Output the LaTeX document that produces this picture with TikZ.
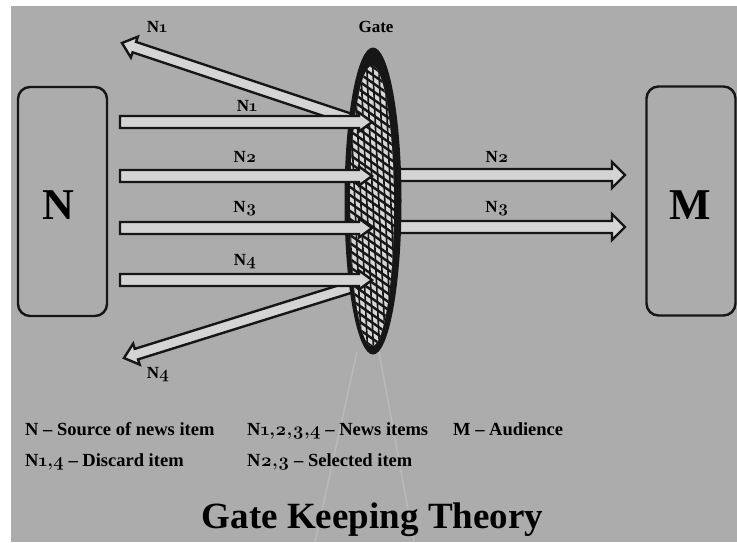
\documentclass[tikz,border=0pt]{standalone}
\usepackage{fontspec}
\setmainfont{Liberation Serif}
\newfontfamily\osf{Latin Modern Roman}[Numbers=OldStyle]
\usetikzlibrary{calc,shapes.geometric}
\definecolor{bg}{RGB}{172,172,172}
\definecolor{afill}{RGB}{212,212,212}
\definecolor{ink}{RGB}{22,22,22}
\definecolor{hatchbg}{RGB}{215,215,215}
\definecolor{faint}{RGB}{186,186,186}
\newcommand\nn[1]{N{\osf #1}}
% block arrow: #1 shaft half width, #2 head half width, #3 start, #4 end
\newcommand\blockarr[4]{%
  \path ($(#4)!13pt!(#3)$) coordinate (bh);
  \filldraw[barrow] ($(#3)!#1!90:(#4)$) -- ($(bh)!#1!90:(#4)$) -- ($(bh)!#2!90:(#4)$) -- (#4)
    -- ($(bh)!#2!-90:(#4)$) -- ($(bh)!#1!-90:(#4)$) -- ($(#3)!#1!-90:(#4)$) -- cycle;}
\begin{document}
\begin{tikzpicture}[x=1pt,y=-1pt,
  barrow/.style={draw=ink, fill=afill, line width=2.4pt, line join=miter},
  box/.style={draw=ink, line width=2.4pt, rounded corners=12pt, minimum width=89pt, minimum height=229pt, inner sep=0},
  big/.style={font=\bfseries\fontsize{44}{44}\selectfont},
  lbl/.style={font=\bfseries\fontsize{17}{17}\selectfont, inner sep=0},
  legend/.style={font=\bfseries\fontsize{18.5}{18.5}\selectfont, inner sep=0, anchor=base west},
  title/.style={font=\bfseries\fontsize{37}{37}\selectfont, inner sep=0, anchor=base}]
\useasboundingbox (0,0) rectangle (737,542);
\fill[white] (0,0) rectangle (737,542);
\fill[bg] (11,6) rectangle (737,542);

% boxes
\node[box] (N) at (62.5,201.5) {};
\node[big] (Nt) at (58,205) {N};
\node[box] (M) at (691,201) {};
\node[big] (Mt) at (690,205) {M};

% faint stem lines under gate
\coordinate (s1a) at (357,352); \coordinate (s1b) at (315,542);
\coordinate (s2a) at (379,352); \coordinate (s2b) at (414,542);
\draw[faint, line width=1.5pt] (s1a) -- (s1b);
\draw[faint, line width=1.5pt] (s2a) -- (s2b);

% coordinates
\coordinate (n1s) at (120,122); \coordinate (g1) at (372,122);
\coordinate (n2s) at (120,176); \coordinate (g2) at (372,176);
\coordinate (n3s) at (120,228); \coordinate (g3) at (372,228);
\coordinate (n4s) at (120,280); \coordinate (g4) at (372,280);
\coordinate (r2s) at (395,175); \coordinate (m2) at (625,175);
\coordinate (r3s) at (395,227); \coordinate (m3) at (625,227);
\coordinate (d1s) at (356,121); \coordinate (d1e) at (122,43);
\coordinate (d4s) at (358,285); \coordinate (d4e) at (124,358);

% discarded (diagonal) arrows
\blockarr{5.5pt}{11pt}{d1s}{d1e}
\blockarr{5.5pt}{11pt}{d4s}{d4e}
% selected arrows to audience
\blockarr{6pt}{13pt}{r2s}{m2}
\blockarr{6pt}{13pt}{r3s}{m3}

% gate
\node[ellipse, fill=ink, minimum width=57pt, minimum height=307pt, inner sep=0] (gate) at (373,201) {};
\begin{scope}
  \clip (372,206) ellipse [x radius=22, y radius=140];
  \fill[hatchbg] (340,55) rectangle (405,355);
  \foreach \k in {0,...,12} {\draw[ink, line width=1.6pt] (336+6*\k,50) -- ++(14,310);}
  \foreach \k in {-6,...,48} {\draw[ink, line width=2.4pt] (300,8*\k) -- ++(120,84);}
\end{scope}
\node[lbl] (gl) at (376,27) {Gate};

% news items into gate
\blockarr{6pt}{9.5pt}{n1s}{g1}
\blockarr{6pt}{9.5pt}{n2s}{g2}
\blockarr{6pt}{9.5pt}{n3s}{g3}
\blockarr{6pt}{9.5pt}{n4s}{g4}

% arrow labels
\node[lbl] (l1) at (247,106) {\nn{1}};
\node[lbl] (l2) at (245,157) {\nn{2}};
\node[lbl] (l3) at (245,209) {\nn{3}};
\node[lbl] (l4) at (245,262) {\nn{4}};
\node[lbl] (r2) at (497,157) {\nn{2}};
\node[lbl] (r3) at (497,209) {\nn{3}};
\node[lbl] (ld1) at (157,27) {\nn{1}};
\node[lbl] (ld4) at (158,375) {\nn{4}};

% legend
\node[legend] (lg1) at (25,435) {N -- Source of news item};
\node[legend] (lg2) at (247,435) {\nn{1,2,3,4} -- News items};
\node[legend] (lg3) at (453,435) {M -- Audience};
\node[legend] (lg4) at (25,466) {\nn{1,4} -- Discard item};
\node[legend] (lg5) at (247,466) {\nn{2,3} -- Selected item};

% title
\node[title] (tt) at (372.5,528) {Gate Keeping Theory};
\end{tikzpicture}
\end{document}
